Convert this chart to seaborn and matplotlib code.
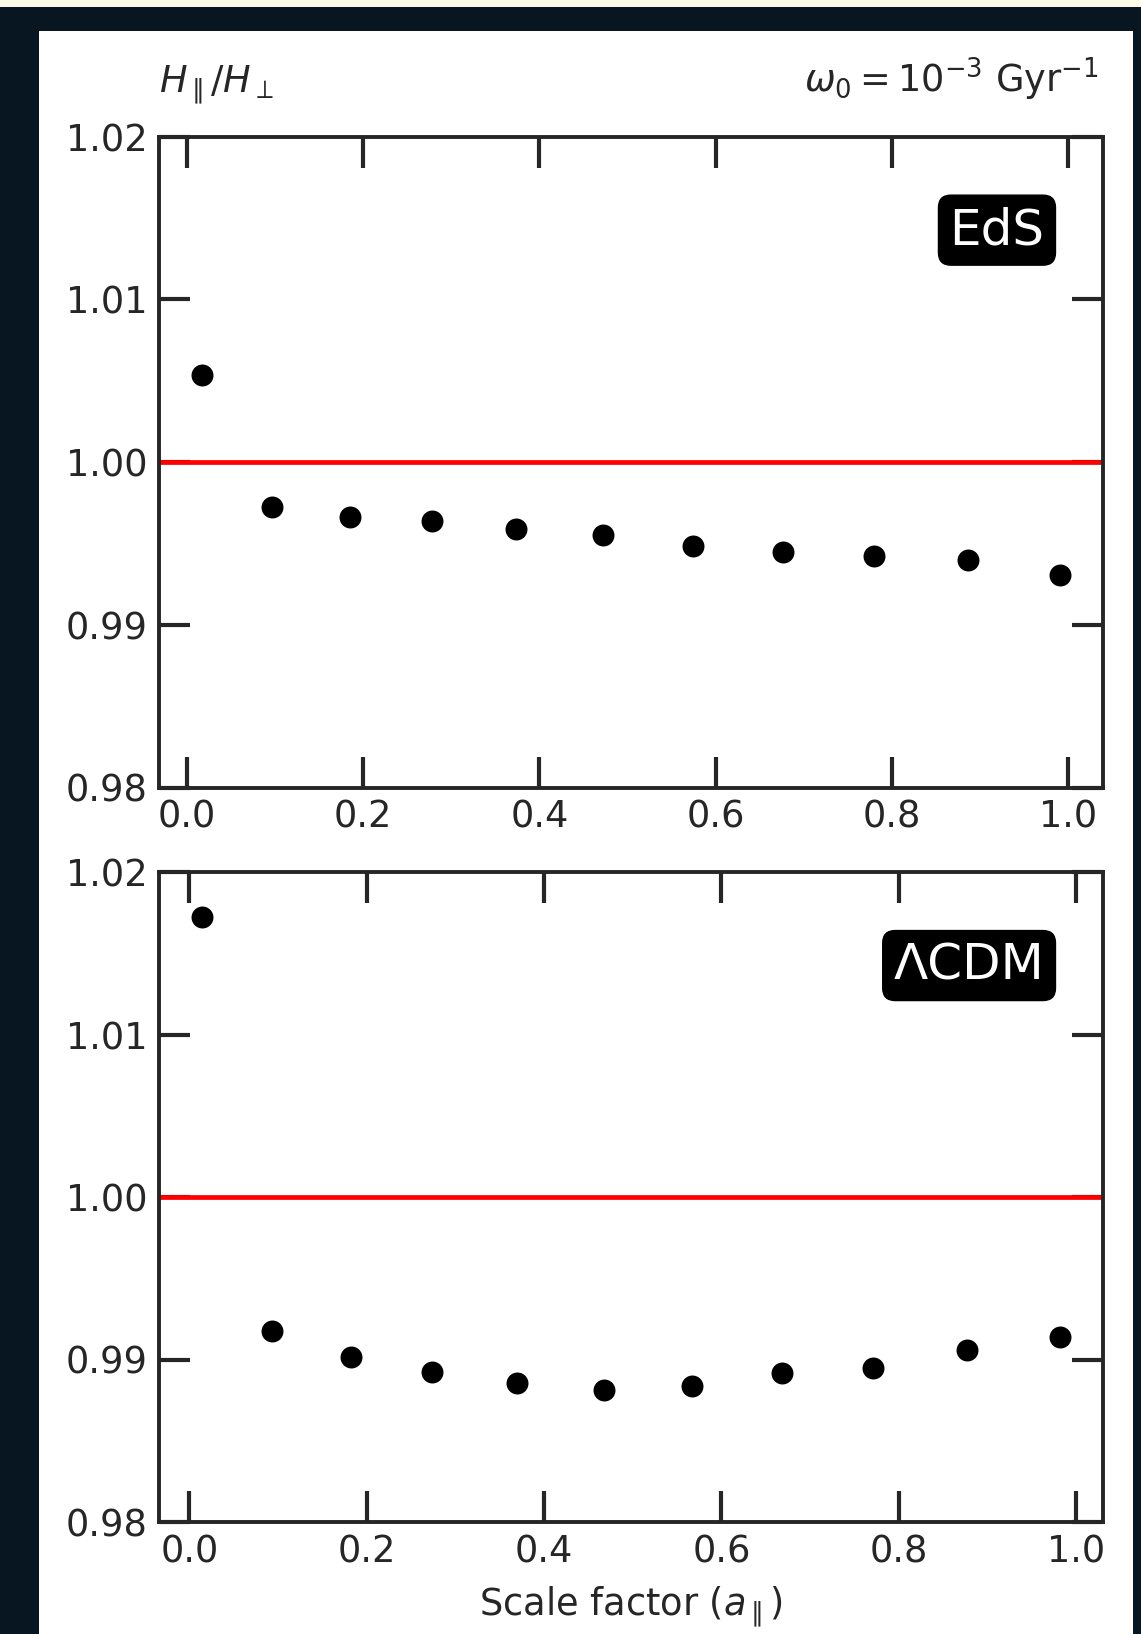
import numpy as np
import pandas as pd
import matplotlib.pyplot as plt
import matplotlib.patches as mpatches
import seaborn as sns

sns.set_style('ticks')
plt.rcParams['font.family'] = ['DejaVu Sans']

# Данные
a_eds = [0.017, 0.096, 0.185, 0.278, 0.373, 0.472, 0.574, 0.676, 0.780, 0.886, 0.991]
h_eds = [1.00532, 0.99724, 0.99660, 0.99635, 0.99590, 0.99551, 0.99481, 0.99449, 0.99423, 0.99397, 0.99308]

a_lcdm = [0.014, 0.093, 0.182, 0.274, 0.369, 0.467, 0.567, 0.668, 0.771, 0.877, 0.982]
h_lcdm = [1.01724, 0.99173, 0.99013, 0.98923, 0.98853, 0.98814, 0.98840, 0.98917, 0.98949, 0.99058, 0.99141]

panels = [('EdS', a_eds, h_eds), ('ΛCDM', a_lcdm, h_lcdm)]
yticks = [0.98, 0.99, 1.00, 1.01, 1.02]
xticks = [0.0, 0.2, 0.4, 0.6, 0.8, 1.0]

W, H = 1141, 1634
fig = plt.figure(figsize=(W / 100, H / 100), dpi=100)
fig.patch.set_facecolor('#071621')

# светлая полоска сверху и белая подложка
fig.patches.append(mpatches.Rectangle((0, 1 - 7 / H), 1, 7 / H, transform=fig.transFigure,
                                      facecolor='#fdfbe6', edgecolor='none', zorder=-2))
fig.patches.append(mpatches.Rectangle((39 / W, 0), (1133 - 39) / W, 1 - 31 / H, transform=fig.transFigure,
                                      facecolor='white', edgecolor='none', zorder=-2))

ax_top = fig.add_axes([159 / W, 1 - 787.5 / H, 944 / W, 651 / H])
ax_bot = fig.add_axes([159 / W, 1 - 1522 / H, 944 / W, 650 / H])

txt_color = '#262626'
fs = 26.5
for ax, (name, x, y) in zip([ax_top, ax_bot], panels):
    df = pd.DataFrame({'a': x, 'h': y})
    ax.axhline(1.0, color='red', lw=3.4, zorder=1)
    sns.scatterplot(data=df, x='a', y='h', ax=ax, color='black', s=250, linewidth=0, zorder=3)
    ax.set_ylim(0.98, 1.02)
    ax.set_yticks(yticks)
    ax.set_yticklabels([f'{v:.2f}' for v in yticks])
    ax.set_xticks(xticks)
    ax.set_xticklabels([f'{v:.1f}' for v in xticks])
    ax.set_xlabel('')
    ax.set_ylabel('')
    ax.tick_params(direction='in', top=True, right=True, length=22, width=3,
                   labelsize=fs, colors=txt_color, pad=8, zorder=5)
    for sp in ax.spines.values():
        sp.set_linewidth(2.8)
        sp.set_color(txt_color)
        sp.set_visible(True)
    ax.text(0.938, 0.893, name, transform=ax.transAxes, ha='right', va='top',
            fontsize=36, color='white', zorder=6,
            bbox=dict(boxstyle='round,pad=0.22,rounding_size=0.25', facecolor='black', edgecolor='black'))

ax_top.text(0.0, 1.068, r'$H_\parallel/H_\perp$', transform=ax_top.transAxes,
            ha='left', va='baseline', fontsize=fs, color=txt_color)
ax_top.text(0.995, 1.068, r'$\omega_0 = 10^{-3}$ Gyr$^{-1}$', transform=ax_top.transAxes,
            ha='right', va='baseline', fontsize=fs, color=txt_color)
ax_bot.set_xlabel(r'Scale factor ($a_\parallel$)', fontsize=fs, color=txt_color, labelpad=10)

plt.savefig('out.png', dpi=100, facecolor=fig.get_facecolor())
